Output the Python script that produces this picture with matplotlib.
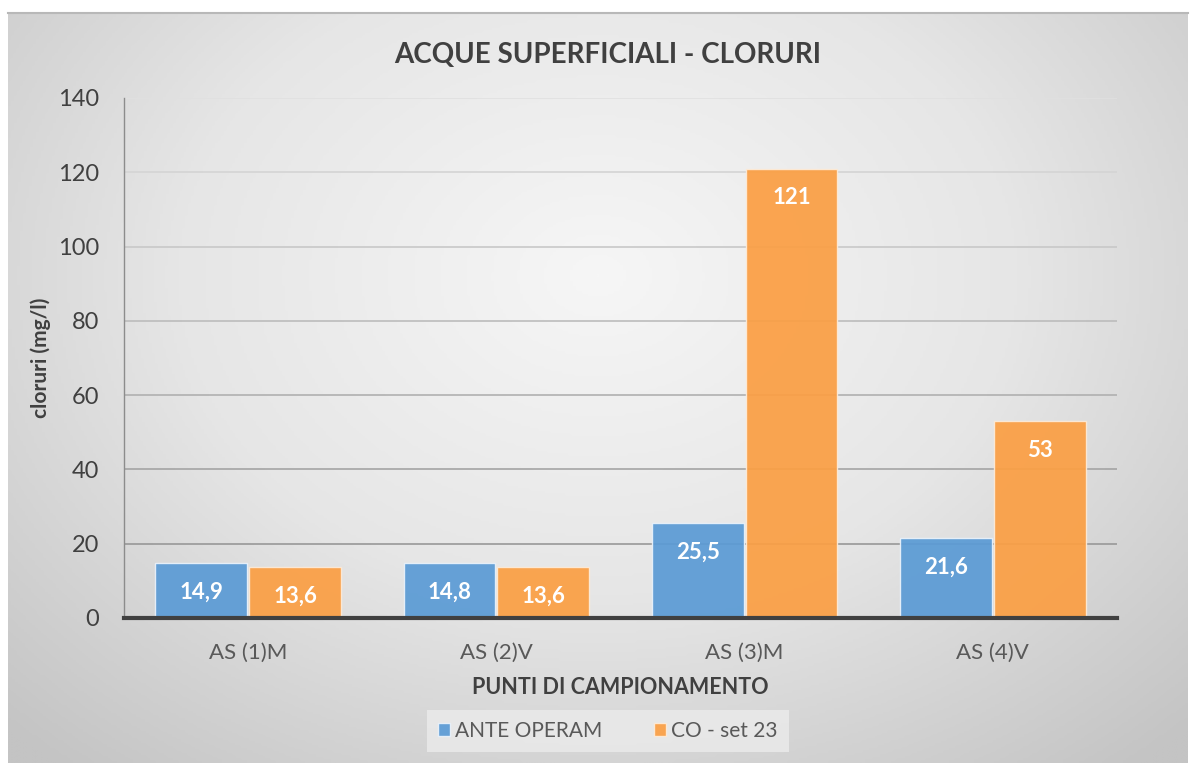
import numpy as np
import matplotlib.pyplot as plt
from matplotlib.colors import LinearSegmentedColormap

plt.rcParams['font.family'] = ['Lato', 'DejaVu Sans']

punti = ['AS (1)M', 'AS (2)V', 'AS (3)M', 'AS (4)V']
ante_operam = [14.9, 14.8, 25.5, 21.6]
co_set23 = [13.6, 13.6, 121, 53]
etichette_ante = ['14,9', '14,8', '25,5', '21,6']
etichette_co = ['13,6', '13,6', '121', '53']
serie = ['ANTE OPERAM', 'CO - set 23']

W, H = 1195, 763
fig = plt.figure(figsize=(W / 100, H / 100), dpi=100)

# background panel with a radial grey gradient
bg = fig.add_axes([8 / W, 0, 1180 / W, 1 - 13 / H])
yy, xx = np.mgrid[0:1:300j, 0:1:400j]
r = np.sqrt(((xx - 0.5) / 0.75) ** 2 + ((yy - 0.35) / 0.9) ** 2)
cmap = LinearSegmentedColormap.from_list('bg', ['#f6f6f6', '#e6e6e6', '#c4c4c4'])
bg.imshow(r, cmap=cmap, aspect='auto', extent=[0, 1, 0, 1], origin='upper', vmin=0, vmax=0.95)
bg.set_axis_off()
fig.add_artist(plt.Line2D([8 / W, 1188 / W], [1 - 13 / H, 1 - 13 / H],
                          color='#b8b8b8', lw=1.5))

ax = fig.add_axes([124 / W, 1 - 618 / H, 993 / W, 520 / H])
ax.patch.set_alpha(0)

x = np.arange(len(punti))
w = 0.37
b1 = ax.bar(x - w / 2 - 0.004, ante_operam, w, color='#5b9bd5', alpha=0.93,
            edgecolor='#eaf2fb', linewidth=1, zorder=3)
b2 = ax.bar(x + w / 2 + 0.004, co_set23, w, color='#fb9f44', alpha=0.93,
            edgecolor='#fdebd8', linewidth=1, zorder=3)

for bars, labels in ((b1, etichette_ante), (b2, etichette_co)):
    for bar, lab in zip(bars, labels):
        h = bar.get_height()
        ax.annotate(lab, (bar.get_x() + bar.get_width() / 2, h),
                    xytext=(0, -21), textcoords='offset points',
                    ha='center', va='center', color='white',
                    fontsize=16, fontweight='bold', zorder=4)

ax.set_xlim(-0.5, 3.5)
ax.set_ylim(0, 140)
ax.set_yticks(range(0, 141, 20))
ax.set_xticks(x)
ax.set_xticklabels(punti)
ax.tick_params(axis='y', length=0, pad=18, labelsize=17, labelcolor='#404040')
ax.tick_params(axis='x', length=0, pad=18, labelsize=16, labelcolor='#595959')

ax.grid(axis='y', linewidth=1.2, zorder=0)
for line, val in zip(ax.yaxis.get_gridlines(), ax.get_yticks()):
    f = val / 140
    g = 0.55 + 0.33 * f
    line.set_color((g, g, g))

for s in ('top', 'right'):
    ax.spines[s].set_visible(False)
ax.spines['left'].set_color('#8c8c8c')
ax.spines['left'].set_linewidth(1)
ax.spines['bottom'].set_color('#404040')
ax.spines['bottom'].set_linewidth(3)
ax.spines['bottom'].set_zorder(5)

ax.set_xlabel('PUNTI DI CAMPIONAMENTO', fontsize=15.5, fontweight='bold',
              color='#404040', labelpad=10)
ax.set_ylabel('cloruri (mg/l)', fontsize=15, fontweight='bold',
              color='#404040')
ax.yaxis.set_label_coords(-0.074, 0.5)
fig.text(608 / W, 1 - 55 / H, 'ACQUE SUPERFICIALI - CLORURI', ha='center',
         va='center', fontsize=20, fontweight='bold', color='#404040')

leg = fig.legend([b1, b2], serie, loc='center', bbox_to_anchor=(608 / W, 1 - 731 / H),
                 ncol=2, frameon=True, fontsize=15, handlelength=0.55,
                 handleheight=0.55, handletextpad=0.25, columnspacing=2.5,
                 borderpad=0.55, fancybox=False)
leg.get_frame().set_facecolor('#e9e9e9')
leg.get_frame().set_edgecolor('none')
leg.get_frame().set_alpha(0.9)
for t in leg.get_texts():
    t.set_color('#595959')

fig.savefig('out.png', dpi=100)
